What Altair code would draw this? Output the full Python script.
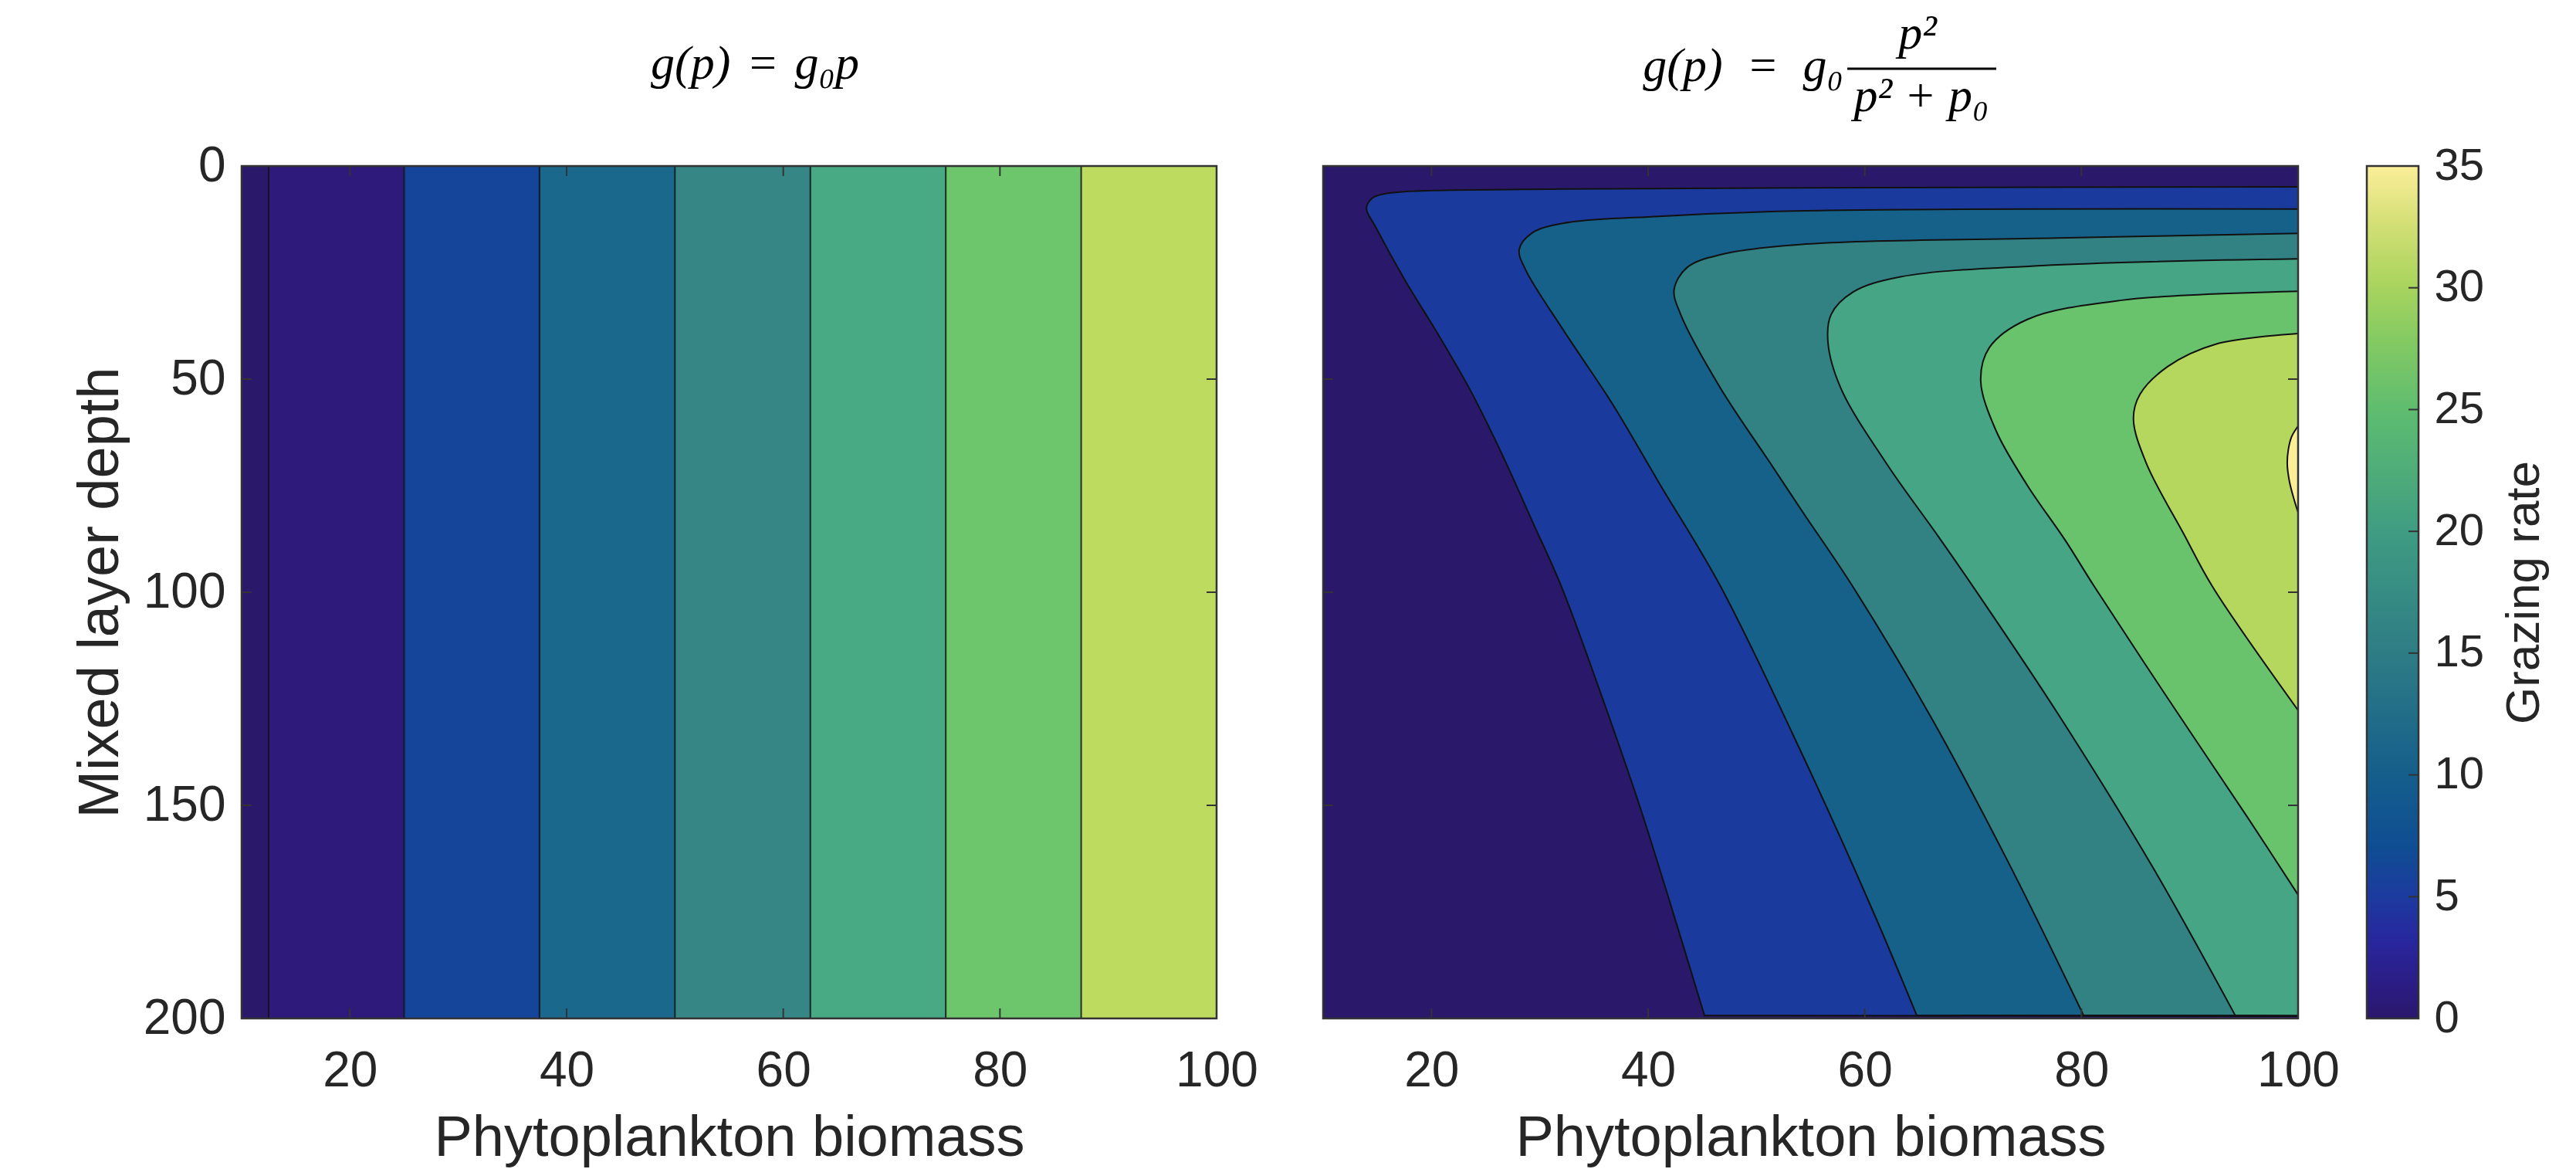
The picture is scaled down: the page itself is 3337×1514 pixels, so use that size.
import altair as alt
import pandas as pd

# ---------------- data ----------------
x_range = [10, 100]
depth_range = [0, 200]
x_ticks = [20, 40, 60, 80, 100]
y_ticks = [0, 50, 100, 150, 200]
cbar_ticks = [0, 5, 10, 15, 20, 25, 30, 35]

# left panel: g(p) = g0 p -> vertical contour bands
left_band_lo = [10, 12.5, 25, 37.5, 50, 62.5, 75, 87.5]
left_band_hi = [12.5, 25, 37.5, 50, 62.5, 75, 87.5, 100]
left_band_colors = ["#2a196b", "#2d1a7b", "#15449b", "#1a688b",
                    "#368686", "#48a985", "#6dc66c", "#bddb5f"]
left_contours = [12.5, 25, 37.5, 50, 62.5, 75, 87.5]

# right panel: contour lines (depth, biomass) of g(p) = g0 p^2/(p^2+p0)
# each contour starts and ends on the right edge (p = 100); the corner where a
# contour meets the thin bottom strip is listed twice.
levels = [5, 10, 15, 20, 25, 30, 35]
c5_depth = [4.9, 5.1, 5.4, 6.0, 6.6, 7.6, 10.0, 14.1, 27.0, 38.6, 52.2, 67.0, 83.3, 98.7, 126.4, 150.0, 171.0, 199.3, 199.3, 199.4]
c5_p = [100, 54.6, 32.2, 17.6, 15.5, 14.5, 14.0, 14.8, 17.6, 20.4, 23.5, 26.4, 29.3, 32.0, 36.0, 39.2, 41.8, 45.2, 45.2, 100]
c10_depth = [10.1, 10.5, 11.8, 13.4, 15.7, 19.6, 24.4, 38.6, 55.4, 74.3, 98.7, 139.0, 174.5, 199.3, 199.3, 199.4]
c10_p = [100, 54.6, 41.0, 32.2, 29.3, 28.1, 28.7, 32.2, 36.6, 41.0, 46.7, 54.4, 60.7, 64.8, 64.8, 100]
c15_depth = [15.8, 16.9, 18.3, 20.8, 23.8, 29.0, 34.8, 52.2, 69.8, 81.3, 98.7, 129.7, 164.6, 199.3, 199.3, 199.4]
c15_p = [100, 77.8, 54.6, 46.7, 43.6, 42.4, 43.0, 46.7, 51.3, 54.3, 58.9, 66.2, 73.5, 80.2, 80.2, 100]
c20_depth = [21.8, 23.2, 26.0, 29.6, 34.8, 41.3, 52.2, 69.8, 86.6, 98.7, 128.4, 164.6, 199.3, 199.3, 199.4]
c20_p = [100, 77.8, 63.3, 58.9, 56.9, 56.6, 57.8, 62.0, 66.7, 70.0, 77.8, 86.6, 94.2, 94.2, 100]
c25_depth = [29.4, 31.5, 36.0, 42.6, 50.3, 62.0, 74.9, 87.8, 98.7, 125.0, 152.7, 171.0]
c25_p = [100, 83.7, 75.0, 71.5, 70.7, 72.1, 75.0, 78.5, 81.2, 88.0, 95.3, 100]
c30_depth = [39.3, 41.8, 47.0, 53.6, 59.4, 69.8, 86.6, 98.7, 127.7]
c30_p = [100, 92.4, 88.0, 85.4, 84.8, 86.0, 89.5, 92.1, 100]
c35_depth = [61.0, 63.5, 66.5, 70.0, 74.0, 78.0, 81.3]
c35_p = [100, 99.4, 99.1, 99.0, 99.2, 99.6, 100]

right_base_color = "#2a196b"
right_level_colors = ["#1b3a9d", "#16618a", "#338283", "#46a584",
                      "#69c36d", "#b6d75e", "#fbee96"]

cbar_stops = [(0.00, "#2a186c"), (0.04, "#2b1c84"), (0.09, "#28269d"),
              (0.14, "#1d399f"), (0.20, "#0f4d93"), (0.29, "#155f8b"),
              (0.43, "#2e7d85"), (0.57, "#3f9c82"), (0.71, "#5dbc70"),
              (0.80, "#86cb62"), (0.86, "#a9d45e"), (0.93, "#d2df74"),
              (1.00, "#fbee99")]

left_title_text = "g(p)\u2004=\u2004g\u2080p"
right_title_main = "g(p)\u2002=\u2002g\u2080"
right_title_num = "p\u00b2"
right_title_den = "p\u00b2 + p\u2080"

# ---------------- layout / style ----------------
W, H, TL = 1263, 1104, 13
FONT = "Liberation Sans"
TXT = "#262626"
FRAME = "#333333"
MATH = "Liberation Serif"

xs = alt.Scale(domain=x_range, nice=False, zero=False)
ys = alt.Scale(domain=depth_range, reverse=True, nice=False, zero=False)

x_axis = alt.Axis(values=x_ticks, ticks=False, tickSize=0, domain=False, grid=False,
                  labelFlush=False, labelFont=FONT, labelFontSize=64, labelColor=TXT,
                  labelPadding=36, title="Phytoplankton biomass", titleFont=FONT,
                  titleFontSize=74, titleFontWeight="normal", titleColor=TXT,
                  titlePadding=19)
y_axis = alt.Axis(values=y_ticks, ticks=False, tickSize=0, domain=False, grid=False,
                  labelFont=FONT, labelFontSize=64, labelColor=TXT, labelPadding=21,
                  title="Mixed layer depth", titleFont=FONT, titleFontSize=74,
                  titleFontWeight="normal", titleColor=TXT, titlePadding=17)

one = pd.DataFrame({"p0": [x_range[0]], "p1": [x_range[1]],
                    "d0": [depth_range[0]], "d1": [depth_range[1]]})
xt = pd.DataFrame({"t": x_ticks})
yt = pd.DataFrame({"t": y_ticks})


def tick_layers(y_ax):
    top = alt.Chart(xt).mark_rule(color=FRAME, strokeWidth=2).encode(
        x=alt.X("t:Q", scale=xs, axis=x_axis), y=alt.value(0), y2=alt.value(TL))
    bot = alt.Chart(xt).mark_rule(color=FRAME, strokeWidth=2).encode(
        x=alt.X("t:Q", scale=xs, axis=x_axis), y=alt.value(H - TL), y2=alt.value(H))
    lft = alt.Chart(yt).mark_rule(color=FRAME, strokeWidth=2).encode(
        y=alt.Y("t:Q", scale=ys, axis=y_ax), x=alt.value(0), x2=alt.value(TL))
    rgt = alt.Chart(yt).mark_rule(color=FRAME, strokeWidth=2).encode(
        y=alt.Y("t:Q", scale=ys, axis=y_ax), x=alt.value(W - TL), x2=alt.value(W))
    return [top, bot, lft, rgt]


frame = alt.Chart(one).mark_rect(fillOpacity=0, stroke=FRAME, strokeWidth=2.5).encode(
    x=alt.value(0), x2=alt.value(W), y=alt.value(0), y2=alt.value(H))

# ---------------- left panel ----------------
bands = pd.DataFrame({"lo": left_band_lo, "hi": left_band_hi,
                      "band": [f"b{i}" for i in range(len(left_band_lo))],
                      "d0": depth_range[0], "d1": depth_range[1]})
band_layer = alt.Chart(bands).mark_rect(strokeWidth=0).encode(
    x=alt.X("lo:Q", scale=xs, axis=x_axis), x2="hi:Q",
    y=alt.Y("d0:Q", scale=ys, axis=y_axis), y2="d1:Q",
    color=alt.Color("band:N", scale=alt.Scale(domain=list(bands["band"]),
                                              range=left_band_colors), legend=None))
lc = pd.DataFrame({"c": left_contours, "d0": depth_range[0], "d1": depth_range[1]})
left_lines = alt.Chart(lc).mark_rule(color="#111111", strokeWidth=2, opacity=0.85).encode(
    x=alt.X("c:Q", scale=xs, axis=x_axis),
    y=alt.Y("d0:Q", scale=ys, axis=y_axis), y2="d1:Q")
left_title = alt.Chart(pd.DataFrame({"s": [left_title_text]})).mark_text(
    font=MATH, fontStyle="italic", fontSize=62, align="center", baseline="alphabetic",
    color="#000000").encode(x=alt.value(665), y=alt.value(-113), text="s:N")

left = alt.layer(band_layer, left_lines, *tick_layers(y_axis), frame, left_title).properties(
    width=W, height=H)

# ---------------- right panel ----------------
depths = [c5_depth, c10_depth, c15_depth, c20_depth, c25_depth, c30_depth, c35_depth]
ps = [c5_p, c10_p, c15_p, c20_p, c25_p, c30_p, c35_p]
rows = []
for lev, dd, pp in zip(levels, depths, ps):
    for i, (d, p) in enumerate(zip(dd, pp)):
        rows.append({"level": lev, "depth": d, "p": p, "i": i})
cont = pd.DataFrame(rows)

base = alt.Chart(one).mark_rect(color=right_base_color).encode(
    x=alt.X("p0:Q", scale=xs, axis=x_axis), x2="p1:Q",
    y=alt.Y("d0:Q", scale=ys, axis=None), y2="d1:Q")

# filled regions g >= level: closed contour paths (closing along the right edge)
fills = []
for lev, col in zip(levels, right_level_colors):
    fills.append(alt.Chart(cont[cont["level"] == lev]).mark_line(
        color=col, fill=col, strokeWidth=0, fillOpacity=1,
        interpolate="catmull-rom", clip=True).encode(
        x=alt.X("p:Q", scale=xs, axis=x_axis),
        y=alt.Y("depth:Q", scale=ys, axis=None),
        order="i:Q"))

lines = alt.Chart(cont).mark_line(color="#111111", strokeWidth=2,
                                  interpolate="catmull-rom", clip=True).encode(
    x=alt.X("p:Q", scale=xs, axis=x_axis),
    y=alt.Y("depth:Q", scale=ys, axis=None),
    detail="level:N", order="i:Q")

math_style = dict(font=MATH, fontStyle="italic", fontSize=62, baseline="alphabetic",
                  color="#000000")
rt_main = alt.Chart(pd.DataFrame({"s": [right_title_main]})).mark_text(
    align="right", **math_style).encode(x=alt.value(674), y=alt.value(-110), text="s:N")
rt_num = alt.Chart(pd.DataFrame({"s": [right_title_num]})).mark_text(
    align="center", **math_style).encode(x=alt.value(770), y=alt.value(-152), text="s:N")
rt_den = alt.Chart(pd.DataFrame({"s": [right_title_den]})).mark_text(
    align="center", **math_style).encode(x=alt.value(775), y=alt.value(-71), text="s:N")
rt_bar = alt.Chart(one).mark_rule(color="#000000", strokeWidth=3).encode(
    x=alt.value(679), x2=alt.value(872), y=alt.value(-126))

right = alt.layer(base, *fills, lines, *tick_layers(None), frame,
                  rt_main, rt_num, rt_den, rt_bar).properties(width=W, height=H)

# ---------------- colour bar ----------------
cs = alt.Scale(domain=[cbar_ticks[0], cbar_ticks[-1]], nice=False, zero=False)
c_axis = alt.Axis(orient="right", values=cbar_ticks, ticks=False, tickSize=0, domain=False,
                  grid=False, labelFont=FONT, labelFontSize=58, labelColor=TXT,
                  labelPadding=20, title="Grazing rate", titleFont=FONT, titleFontSize=62,
                  titleFontWeight="normal", titleColor=TXT, titleAngle=270,
                  titleBaseline="top", titlePadding=22)
grad = {"gradient": "linear", "x1": 0, "x2": 0, "y1": 1, "y2": 0,
        "stops": [{"offset": o, "color": c} for o, c in cbar_stops]}
cb_df = pd.DataFrame({"lo": [cbar_ticks[0]], "hi": [cbar_ticks[-1]]})
cbar_rect = alt.Chart(cb_df).mark_rect(fill=grad, stroke=FRAME, strokeWidth=2.5).encode(
    x=alt.value(-49), x2=alt.value(18),
    y=alt.Y("lo:Q", scale=cs, axis=c_axis), y2="hi:Q")
cbar_ticks_layer = alt.Chart(pd.DataFrame({"t": cbar_ticks[1:-1]})).mark_rule(
    color=FRAME, strokeWidth=2).encode(
    y=alt.Y("t:Q", scale=cs, axis=c_axis), x=alt.value(18 - TL), x2=alt.value(18))
cbar = alt.layer(cbar_rect, cbar_ticks_layer).properties(width=18, height=H)

chart = alt.hconcat(left, right, cbar, spacing=138, bounds="flush").properties(
    padding={"left": 313, "top": 215, "right": 3337 - 313, "bottom": 1514 - 215},
    autosize=alt.AutoSizeParams(type="none"),
    background="white",
).configure_view(stroke=None)

chart.save("out.html", embed_options={"renderer": "svg", "actions": False})
